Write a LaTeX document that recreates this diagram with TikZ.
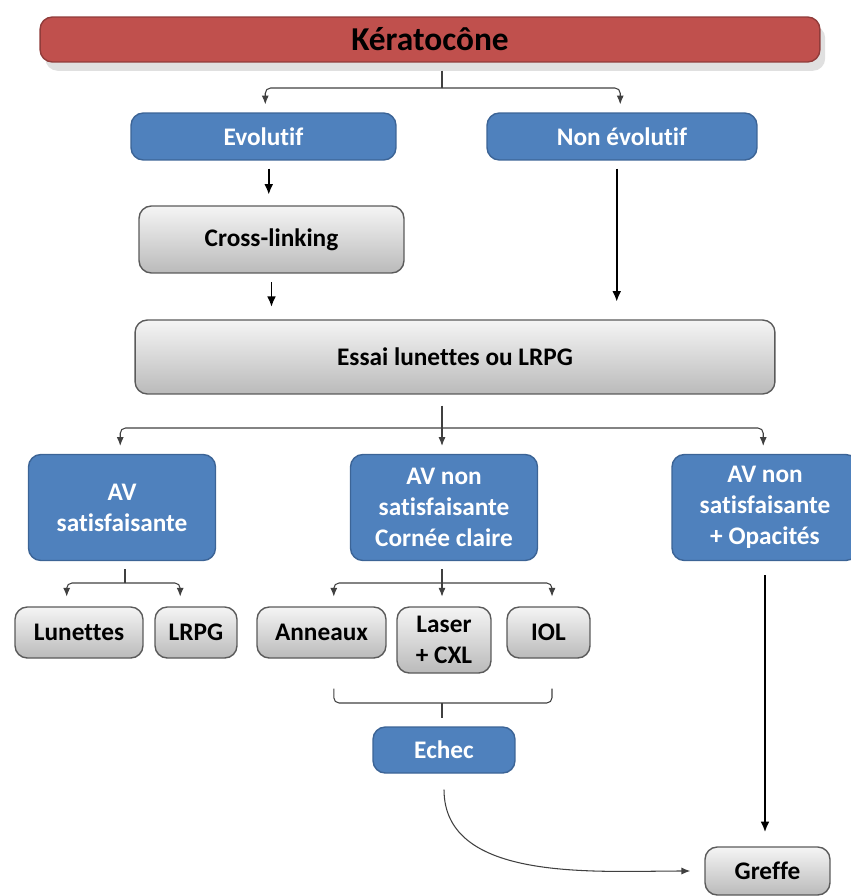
\documentclass[tikz,border=0pt]{standalone}
\usepackage{fontspec}
\setmainfont[Ligatures=NoCommon]{Carlito}
\usepackage{xcolor}
\usetikzlibrary{arrows.meta,shadows}
\definecolor{rouge}{RGB}{192,80,77}
\definecolor{bleu}{RGB}{79,129,189}
\definecolor{bleufonce}{RGB}{60,100,150}
\definecolor{grisbord}{RGB}{90,90,90}

\tikzset{
  boite/.style={rounded corners=7pt, inner sep=0pt, align=center,
    font=\fontsize{14.4}{17.6}\selectfont\bfseries},
  titre/.style={boite, draw=rouge!75!black, line width=0.8pt, fill=rouge,
    font=\fontsize{19}{23}\selectfont\bfseries,
    drop shadow={shadow xshift=3pt, shadow yshift=-5pt, fill=black!30, opacity=.4}},
  bleubox/.style={boite, draw=bleufonce, line width=0.8pt, fill=bleu, text=white},
  grisbox/.style={boite, draw=grisbord, line width=0.8pt,
    top color=black!4, bottom color=black!27},
  accol/.style={draw=black!75, line width=0.6pt, rounded corners=3pt},
  petite/.style={accol, -{Latex[length=5pt,width=4pt]}},
  fleche/.style={draw=black, line width=1.1pt, -{Latex[length=6pt,width=5pt]}},
}

\begin{document}
\begin{tikzpicture}[x=0.02cm,y=-0.02cm]
  \useasboundingbox (0,0) rectangle (850,896);

  % boxes
  \node[titre, minimum width=15.6cm, minimum height=0.9cm] (kerato) at (430,39.5) {Kératocône};
  \node[bleubox, minimum width=5.3cm, minimum height=0.94cm] (evol) at (263.5,136.5) {Evolutif};
  \node[bleubox, minimum width=5.4cm, minimum height=0.94cm] (nonevol) at (622,136.5) {Non évolutif};
  \node[grisbox, minimum width=5.3cm, minimum height=1.34cm] (cross) at (271.5,239.5) {Cross-linking};
  \node[grisbox, minimum width=12.8cm, minimum height=1.48cm] (essai) at (455,357) {Essai lunettes ou LRPG};
  \node[bleubox, minimum width=3.74cm, minimum height=2.12cm] (avsat) at (122,507.5) {AV\\satisfaisante};
  \node[bleubox, minimum width=3.74cm, minimum height=2.12cm] (avnon) at (444,507.5) {AV non\\satisfaisante\\Cornée claire};
  \node[bleubox, minimum width=3.72cm, minimum height=2.12cm] (avopa) at (765,507.5) {AV non\\satisfaisante\\+ Opacités};
  \node[grisbox, minimum width=2.56cm, minimum height=1.02cm] (lunettes) at (79,632.5) {Lunettes};
  \node[grisbox, minimum width=1.64cm, minimum height=1.02cm] (lrpg) at (196,632.5) {LRPG};
  \node[grisbox, minimum width=2.58cm, minimum height=1.02cm] (anneaux) at (321.5,632.5) {Anneaux};
  \node[grisbox, minimum width=1.88cm, minimum height=1.32cm] (laser) at (444,640) {Laser\\+ CXL};
  \node[grisbox, minimum width=1.66cm, minimum height=1.02cm] (iol) at (548.5,632.5) {IOL};
  \node[bleubox, minimum width=2.84cm, minimum height=0.92cm] (echec) at (444,750) {Echec};
  \node[grisbox, minimum width=2.5cm, minimum height=0.96cm] (greffe) at (767.5,871) {Greffe};

  % junctions
  \coordinate (j1) at (442,88);
  \coordinate (j2) at (442,428);
  \coordinate (j3) at (125,583);
  \coordinate (j4) at (442,583);
  \coordinate (j5) at (442,703);

  % Keratocone -> evolutif / non evolutif
  \draw[accol] (kerato.south -| j1) ++(0,8) -- (j1);
  \draw[petite, shorten >=4.5pt] (j1) -| ([xshift=1pt]evol.north);
  \draw[petite, shorten >=4.5pt] (j1) -| ([xshift=-1pt]nonevol.north);

  \draw[fleche, shorten <=4.5pt, shorten >=6pt] ([xshift=3pt]evol.south) -- ([xshift=3pt]evol.south |- cross.north);
  \draw[fleche, shorten <=5pt, shorten >=7pt] (cross.south) -- (cross.south |- essai.north);
  \draw[fleche, shorten <=4.5pt, shorten >=10pt] ([xshift=-3pt]nonevol.south) -- ([xshift=-3pt]nonevol.south |- essai.north);

  % essai -> AV
  \draw[accol] (essai.south -| j2) ++(0,11) -- (j2);
  \draw[petite, shorten >=4.5pt] (j2) -| ([xshift=-1pt]avsat.north);
  \draw[petite, shorten >=4.5pt] (j2) -- (j2 |- avnon.north);
  \draw[petite, shorten >=4.5pt] (j2) -| ([xshift=-1pt]avopa.north);

  % AV satisfaisante
  \draw[accol] (avsat.south -| j3) ++(0,8) -- (j3);
  \draw[petite, shorten >=5.5pt] (j3) -| ([xshift=-7pt]lunettes.north);
  \draw[petite, shorten >=5.5pt] (j3) -| ([xshift=-9pt]lrpg.north);

  % AV non satisfaisante, cornee claire
  \draw[accol] (avnon.south -| j4) ++(0,8) -- (j4);
  \draw[petite, shorten >=5.5pt] (j4) -| ([xshift=7pt]anneaux.north);
  \draw[petite, shorten >=5.5pt] (j4) -- (j4 |- laser.north);
  \draw[petite, shorten >=5.5pt] (j4) -| ([xshift=2pt]iol.north);

  % accolade vers echec
  \draw[accol] ([xshift=7pt,yshift=-17pt]anneaux.south) |- (j5) -| ([xshift=2pt,yshift=-17pt]iol.south);
  \draw[accol] (j5) -- ([yshift=5pt]echec.north -| j5);

  % vers greffe
  \draw[fleche, shorten <=8pt, shorten >=8pt] (avopa.south) -- (avopa.south |- greffe.north);
  \draw[petite, shorten <=9pt, shorten >=8pt] (echec.south) to[out=-90, in=180] (greffe.west);
\end{tikzpicture}
\end{document}
